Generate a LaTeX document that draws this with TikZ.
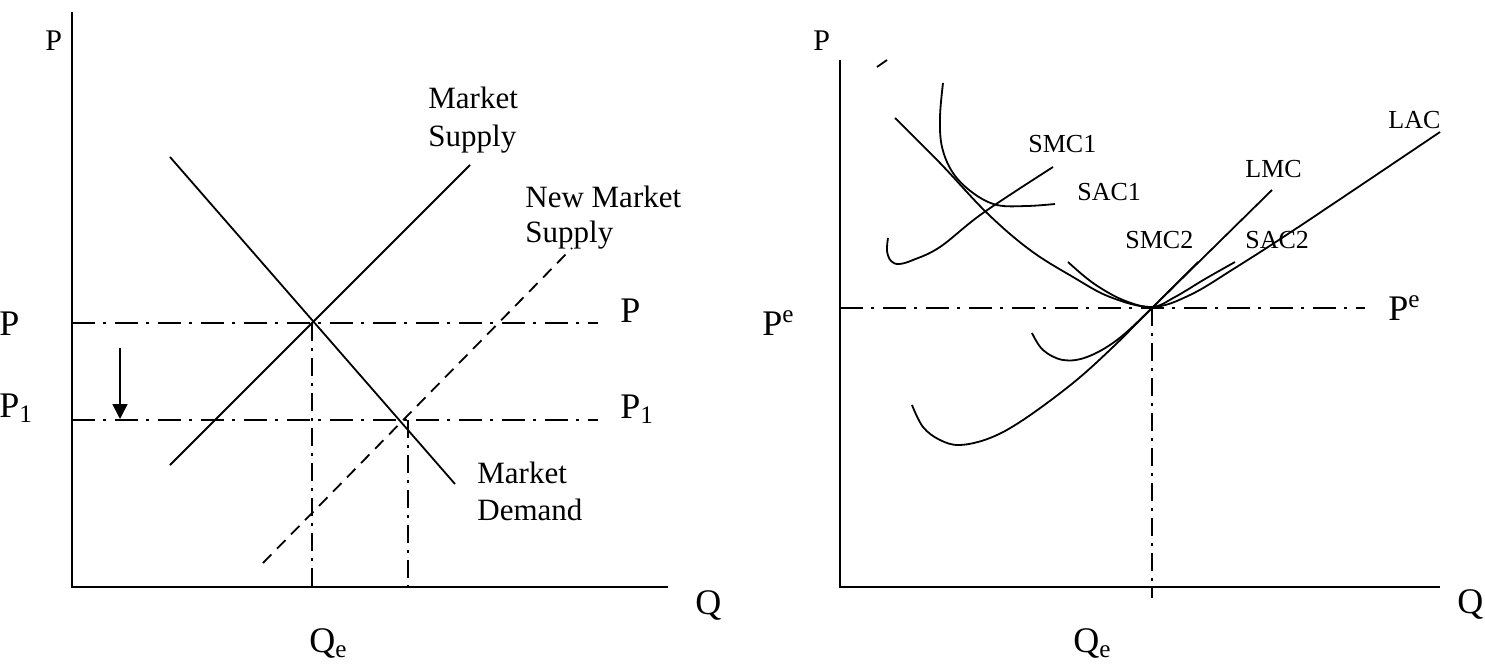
\documentclass[tikz,border=0pt]{standalone}
\usepackage{fontspec}
\setmainfont{Liberation Serif}
\usetikzlibrary{arrows.meta}
\begin{document}
\begin{tikzpicture}[x=0.5pt,y=-0.5pt,
  ax/.style={line width=1.1pt},
  crv/.style={line width=0.9pt},
  dd/.style={line width=0.9pt, dash pattern=on 11.5pt off 4pt on 1.5pt off 4.5pt},
  ddv/.style={line width=0.9pt, dash pattern=on 9pt off 3.5pt on 1.5pt off 3.5pt},
  dsh/.style={line width=0.9pt, dash pattern=on 6pt off 4pt},
  big/.style={font=\fontsize{18}{21}\selectfont, inner sep=0pt, anchor=base west},
  mid/.style={font=\fontsize{15.5}{18}\selectfont, inner sep=0pt, anchor=base west},
  sml/.style={font=\fontsize{13}{15}\selectfont, inner sep=0pt, anchor=base west},
  axl/.style={font=\fontsize{15}{17}\selectfont, inner sep=0pt, anchor=base west}]
\useasboundingbox (0,0) rectangle (1485,664);

% ---------- left panel ----------
\coordinate (LT) at (72,12);
\coordinate (LO) at (72,587);
\coordinate (LR) at (668,587);
\draw[ax] (LT) -- (LO) -- (LR);

\coordinate (Ptl) at (72,323);  \coordinate (Ptr) at (598,323);
\coordinate (P1l) at (72,420);  \coordinate (P1r) at (598,420);
\draw[dd] (Ptl) -- (Ptr);
\draw[dd] (P1l) -- (P1r);

\coordinate (Ea) at (312,323);  \coordinate (Eab) at (312,587);
\coordinate (Eb) at (408,420);  \coordinate (Ebb) at (408,587);
\draw[ddv] (Ea) -- (Eab);
\draw[ddv] (Eb) -- (Ebb);

\coordinate (D1) at (170,157);  \coordinate (D2) at (455,484);
\draw[crv] (D1) -- (D2);
\coordinate (S1) at (170,465);  \coordinate (S2) at (470,165);
\draw[crv] (S1) -- (S2);
\coordinate (N1) at (263,563);  \coordinate (N2) at (572,248);
\draw[dsh] (N1) -- (N2);

\coordinate (A1) at (120,348);  \coordinate (A2) at (120,419);
\draw[crv,-{Triangle[length=7.5pt,width=7.5pt]}] (A1) -- (A2);

\node[axl] (lPax) at (45,50) {P};
\node[big] (lP) at (-1,335) {P};
\node[big] (lP1) at (-1,417) {P\textsubscript{1}};
\node[big] (rP) at (620,322) {P};
\node[big] (rP1) at (620,418) {P\textsubscript{1}};
\node[big] (lQ) at (695,614) {Q};
\node[big] (lQe) at (309,652) {Q\textsubscript{e}};
\node[mid] (ms1) at (428,108) {Market};
\node[mid] (ms2) at (428,146) {Supply};
\node[mid] (nms1) at (525,207) {New Market};
\node[mid] (nms2) at (525,242) {Supply};
\node[mid] (md1) at (477,483) {Market};
\node[mid] (md2) at (477,520) {Demand};

% ---------- right panel ----------
\coordinate (RT) at (840,60);
\coordinate (RO) at (840,587);
\coordinate (RR) at (1440,587);
\draw[ax] (RT) -- (RO) -- (RR);

\coordinate (Pel) at (840,308);  \coordinate (Per) at (1365,308);
\draw[dd] (Pel) -- (Per);
\coordinate (E) at (1152,308);  \coordinate (Eq) at (1152,598);
\draw[ddv] (E) -- (Eq);

\coordinate (tk1) at (877,67);  \coordinate (tk2) at (887,60);
\draw[crv] (tk1) -- (tk2);

% LAC
\draw[crv] plot[smooth, tension=0.6] coordinates {(895,118) (940,163) (987,213) (1030,250) (1073,277) (1110,297) (1152,307) (1190,295) (1235,268) (1300,226) (1440,132)};
% SAC1
\draw[crv] plot[smooth, tension=0.6] coordinates {(943,83) (940,117) (942,147) (953,173) (973,193) (997,205) (1027,206) (1055,204)};
% SMC1
\draw[crv] plot[smooth, tension=0.6] coordinates {(888,238) (887,251) (891,261) (899,264) (913,260) (940,247) (983,213) (1053,167)};
% SAC2
\draw[crv] plot[smooth, tension=0.6] coordinates {(1068,262) (1093,283) (1123,300) (1152,307) (1175,297) (1205,279) (1235,262)};
% SMC2
\draw[crv] plot[smooth, tension=0.6] coordinates {(1032,333) (1043,350) (1063,360) (1087,357) (1117,340) (1152,308) (1198,262)};
% LMC
\draw[crv] plot[smooth, tension=0.6] coordinates {(912,405) (923,427) (940,440) (960,445) (990,438) (1023,420) (1073,383) (1113,347) (1152,308) (1212,249) (1272,190)};

\node[axl] (rPax) at (813,50) {P};
\node[big] (lPe) at (762,335) {P\textsuperscript{e}};
\node[big] (rPe) at (1388,320) {P\textsuperscript{e}};
\node[big] (rQ) at (1457,613) {Q};
\node[big] (rQe) at (1073,652) {Q\textsubscript{e}};
\node[sml] (smc1) at (1028,152) {SMC1};
\node[sml] (sac1) at (1077,200) {SAC1};
\node[sml] (smc2) at (1125,248) {SMC2};
\node[sml] (lmc) at (1245,177) {LMC};
\node[sml] (sac2) at (1245,248) {SAC2};
\node[sml] (lac) at (1388,128) {LAC};
\end{tikzpicture}
\end{document}
